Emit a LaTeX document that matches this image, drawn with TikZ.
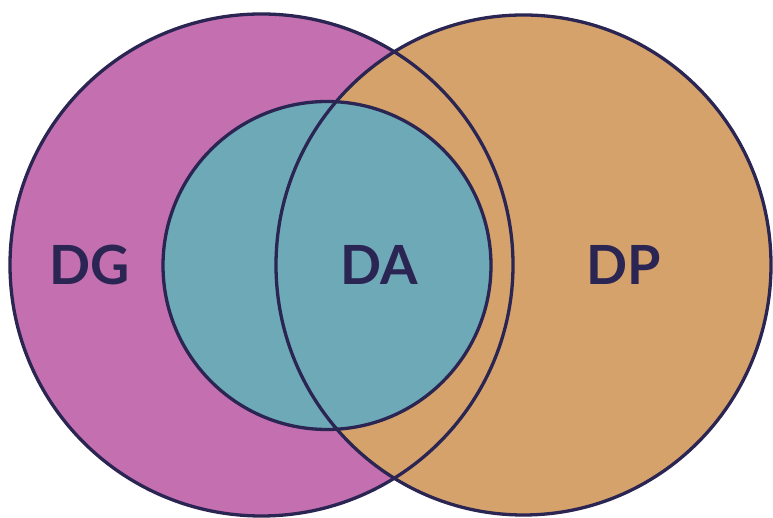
\documentclass[tikz,border=0pt]{standalone}
\usepackage{fontspec}
\newfontfamily\labelfont{Lato}
\definecolor{dgfill}{HTML}{C46FB0}
\definecolor{dpfill}{HTML}{D5A26C}
\definecolor{dafill}{HTML}{6EA9B8}
\definecolor{edge}{HTML}{2A2552}
\tikzset{
  ring/.style={draw=edge, line width=3.3pt},
  setlabel/.style={text=edge, font=\labelfont\bfseries\fontsize{54}{54}\selectfont, inner sep=0pt, anchor=center}
}
\begin{document}
\begin{tikzpicture}[x=1pt,y=1pt]
\useasboundingbox (0,0) rectangle (773,518);
\fill[white] (0,0) rectangle (773,518);
% fills
\fill[dgfill] (261.5,253) ellipse [x radius=251.5, y radius=251];
\fill[dpfill] (523.5,253) ellipse [x radius=247.5, y radius=250];
\fill[dafill] (327,252.5) circle [radius=164];
% outlines
\draw[ring] (261.5,253) ellipse [x radius=251.5, y radius=251];
\draw[ring] (523.5,253) ellipse [x radius=247.5, y radius=250];
\draw[ring] (327,252.5) circle [radius=164];
% labels
\node[setlabel] (dg) at (90,253) {DG};
\node[setlabel] (da) at (379,253) {DA};
\node[setlabel] (dp) at (624,253) {DP};
\end{tikzpicture}
\end{document}
